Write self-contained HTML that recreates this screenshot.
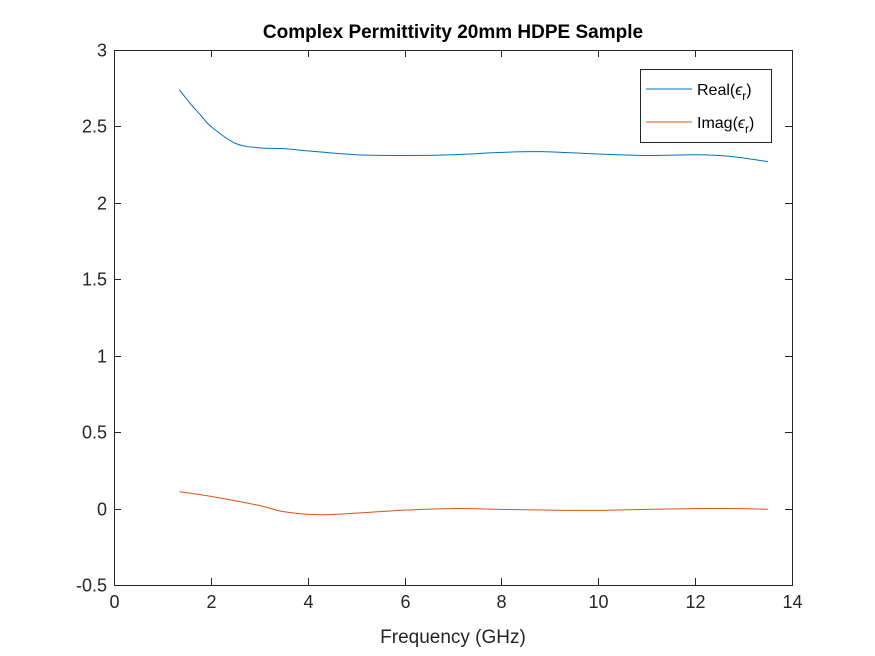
<!DOCTYPE html>
<html><head><meta charset="utf-8"><style>
body{margin:0;background:#fff;}
svg{display:block;font-family:"Liberation Sans",Arial,sans-serif;}
</style></head><body>
<svg id="chart" width="875" height="656">
<rect width="875" height="656" fill="#fff"/>
<text x="453" y="38" text-anchor="middle" font-size="19" font-weight="bold">Complex Permittivity 20mm HDPE Sample</text>
<g id="axes"></g>
<g id="series"></g>
<text x="453" y="643" text-anchor="middle" font-size="19" fill="#262626">Frequency (GHz)</text>
<g>
<rect x="640.5" y="69.5" width="131" height="73" fill="#fff" stroke="#262626" stroke-width="1"/>
<line x1="646" y1="89" x2="692" y2="89" stroke="#0072BD" stroke-width="1"/>
<text x="697" y="95" font-size="16" fill="#000">Real(<tspan font-style="italic">ϵ</tspan><tspan dy="5" font-size="12">r</tspan><tspan dy="-5">)</tspan></text>
<line x1="646" y1="122" x2="692" y2="122" stroke="#D95319" stroke-width="1"/>
<text x="697" y="128" font-size="16" fill="#000">Imag(<tspan font-style="italic">ϵ</tspan><tspan dy="5" font-size="12">r</tspan><tspan dy="-5">)</tspan></text>
</g>
</svg>
<script>
const freq = [1.35,1.6,1.8,2.0,2.5,3,3.5,4,5,6,7,8,8.8,10,11,12,12.7,13.5];
const realVals = [2.74,2.64,2.57,2.5,2.39,2.36,2.355,2.34,2.315,2.31,2.315,2.33,2.335,2.32,2.31,2.315,2.305,2.27];
const imagFreq = [1.35,2,3,3.5,4.2,5,6,7,8,9,10,11,12,13,13.5];
const imagVals = [0.11,0.08,0.02,-0.02,-0.04,-0.03,-0.01,0.0,-0.005,-0.01,-0.012,-0.005,0.0,0.0,-0.005];
const xTicks = [0,2,4,6,8,10,12,14];
const yTicks = [-0.5,0,0.5,1,1.5,2,2.5,3];
const L=114,R=792,T=50,B=585;
const sx=v=>L+(v-0)/(14-0)*(R-L);
const sy=v=>B-(v+0.5)/(3.5)*(B-T);
const NS="http://www.w3.org/2000/svg";
const axes=document.getElementById('axes');
function mk(tag,attrs,parent){const e=document.createElementNS(NS,tag);for(const k in attrs)e.setAttribute(k,attrs[k]);parent.appendChild(e);return e;}
const box=mk('rect',{x:L+0.5,y:T+0.5,width:R-L,height:B-T,fill:'none',stroke:'#262626','stroke-width':1},axes);


xTicks.forEach(t=>{
  const x=Math.round(sx(t))+0.5;
  mk('line',{x1:x,y1:B,x2:x,y2:B-7,stroke:'#262626'},axes);
  mk('line',{x1:x,y1:T,x2:x,y2:T+7,stroke:'#262626'},axes);
  const tx=mk('text',{x:x,y:B+23,'text-anchor':'middle','font-size':18,fill:'#262626'},axes);
  tx.textContent=t;
  
  
});
yTicks.forEach(t=>{
  const y=Math.round(sy(t))+0.5;
  mk('line',{x1:L,y1:y,x2:L+7,y2:y,stroke:'#262626'},axes);
  mk('line',{x1:R,y1:y,x2:R-7,y2:y,stroke:'#262626'},axes);
  const tx=mk('text',{x:L-7,y:y+6,'text-anchor':'end','font-size':18,fill:'#262626'},axes);
  tx.textContent=t;
  
  
});
function smooth(xs,ys){
  const p=xs.map((x,i)=>[sx(x),sy(ys[i])]);
  let d='M'+p[0][0]+','+p[0][1];
  for(let i=0;i<p.length-1;i++){
    const p0=p[i-1]||p[i],p1=p[i],p2=p[i+1],p3=p[i+2]||p2;
    const c1=[p1[0]+(p2[0]-p0[0])/6,p1[1]+(p2[1]-p0[1])/6];
    const c2=[p2[0]-(p3[0]-p1[0])/6,p2[1]-(p3[1]-p1[1])/6];
    d+=' C'+c1+' '+c2+' '+p2;
  }
  return d;
}
const series=document.getElementById('series');
const r=mk('path',{d:smooth(freq,realVals),fill:'none',stroke:'#0072BD','stroke-width':1},series);


const im=mk('path',{d:smooth(imagFreq,imagVals),fill:'none',stroke:'#D95319','stroke-width':1},series);


</script>
</body></html>
